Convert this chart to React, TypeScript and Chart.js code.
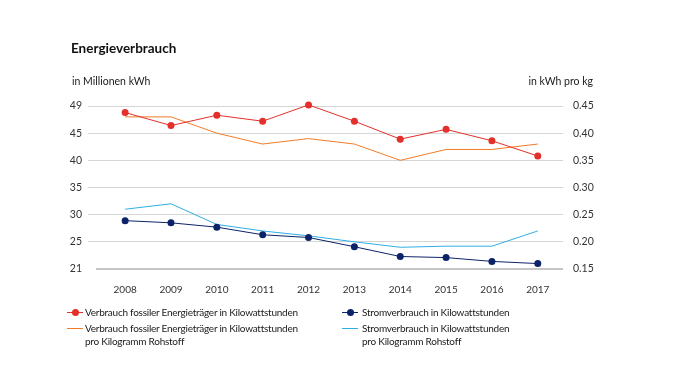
import React, { useEffect, useRef } from "react";
import { Chart, registerables } from "chart.js";

Chart.register(...registerables);

const years = [2008, 2009, 2010, 2011, 2012, 2013, 2014, 2015, 2016, 2017];
// left axis (Millionen kWh), drawn on an evenly spaced 20..50 grid
const fossil = [48.8, 46.4, 48.3, 47.2, 50.2, 47.2, 43.9, 45.7, 43.6, 40.8];
const strom = [28.9, 28.5, 27.7, 26.3, 25.8, 24.1, 22.3, 22.1, 21.4, 21.0];
// right axis (kWh pro kg)
const fossilPerKg = [0.43, 0.43, 0.4, 0.38, 0.39, 0.38, 0.35, 0.37, 0.37, 0.38];
const stromPerKg = [0.26, 0.27, 0.232, 0.22, 0.211, 0.2, 0.19, 0.192, 0.192, 0.22];

const leftTickValues = [20, 25, 30, 35, 40, 45, 50];
const leftTickLabels = ["21", "25", "30", "35", "40", "45", "49"];
const rightTickValues = [0.15, 0.2, 0.25, 0.3, 0.35, 0.4, 0.45];
const rightTickLabels = ["0.15", "0.20", "0.25", "0.30", "0.35", "0.40", "0.45"];

const RED = "#e3302a";
const ORANGE = "#f37b26";
const LIGHTBLUE = "#2eaee3";
const NAVY = "#0c2467";
const FONT = "Lato, 'Liberation Sans', sans-serif";

const baselinePlugin = {
  id: "baseline",
  beforeDatasetsDraw(chart: any) {
    const { ctx, chartArea } = chart;
    ctx.save();
    ctx.strokeStyle = "#c6c6c6";
    ctx.lineWidth = 2;
    ctx.beginPath();
    ctx.moveTo(chartArea.left + 8, chartArea.bottom);
    ctx.lineTo(chartArea.right, chartArea.bottom);
    ctx.stroke();
    ctx.restore();
  },
};

export default function App() {
  const ref = useRef<HTMLCanvasElement>(null);

  useEffect(() => {
    if (!ref.current) return;
    const chart = new Chart(ref.current, {
      type: "line",
      plugins: [baselinePlugin],
      data: {
        datasets: [
          {
            label: "fossil",
            data: years.map((y, i) => ({ x: y, y: fossil[i] })),
            yAxisID: "yL",
            borderColor: RED,
            backgroundColor: RED,
            borderWidth: 1,
            pointRadius: 3.5,
            pointBorderWidth: 0,
            clip: false,
          },
          {
            label: "fossilPerKg",
            data: years.map((y, i) => ({ x: y, y: fossilPerKg[i] })),
            yAxisID: "yR",
            borderColor: ORANGE,
            backgroundColor: ORANGE,
            borderWidth: 1,
            pointRadius: 0,
            clip: false,
          },
          {
            label: "strom",
            data: years.map((y, i) => ({ x: y, y: strom[i] })),
            yAxisID: "yL",
            borderColor: NAVY,
            backgroundColor: NAVY,
            borderWidth: 1,
            pointRadius: 3.5,
            pointBorderWidth: 0,
            clip: false,
          },
          {
            label: "stromPerKg",
            data: years.map((y, i) => ({ x: y, y: stromPerKg[i] })),
            yAxisID: "yR",
            borderColor: LIGHTBLUE,
            backgroundColor: LIGHTBLUE,
            borderWidth: 1,
            pointRadius: 0,
            clip: false,
          },
        ],
      },
      options: {
        animation: false,
        responsive: false,
        maintainAspectRatio: false,
        layout: { padding: { left: 40, right: 62, top: 106, bottom: 89 } },
        plugins: { legend: { display: false }, tooltip: { enabled: false } },
        scales: {
          x: {
            type: "linear",
            min: 2007.19,
            max: 2017.55,
            grid: { display: false },
            border: { display: false },
            afterBuildTicks: (axis: any) => {
              axis.ticks = years.map((v) => ({ value: v }));
            },
            afterFit: (axis: any) => {
              axis.height = 30;
            },
            ticks: {
              autoSkip: false,
              maxRotation: 0,
              padding: 7,
              color: "#333",
              font: { family: FONT, size: 10 },
              callback: (v: any) => String(v),
            },
          },
          yL: {
            type: "linear",
            position: "left",
            min: 20,
            max: 50,
            afterBuildTicks: (axis: any) => {
              axis.ticks = leftTickValues.map((v) => ({ value: v }));
            },
            afterFit: (axis: any) => {
              axis.width = 48;
            },
            grid: {
              color: (c: any) => (c.tick && c.tick.value === 20 ? "rgba(0,0,0,0)" : "#d6d6d6"),
              lineWidth: 1,
              drawTicks: false,
            },
            border: { display: false },
            ticks: {
              padding: 6,
              color: "#333",
              font: { family: FONT, size: 10.5 },
              callback: (v: any) => {
                const i = leftTickValues.indexOf(Number(v));
                return i >= 0 ? leftTickLabels[i] : "";
              },
            },
          },
          yR: {
            type: "linear",
            position: "right",
            min: 0.15,
            max: 0.45,
            afterBuildTicks: (axis: any) => {
              axis.ticks = rightTickValues.map((v) => ({ value: v }));
            },
            afterFit: (axis: any) => {
              axis.width = 60;
            },
            grid: { display: false, drawTicks: false },
            border: { display: false },
            ticks: {
              padding: 10,
              color: "#333",
              font: { family: FONT, size: 10.5 },
              callback: (v: any) => {
                const i = rightTickValues.findIndex((t) => Math.abs(t - Number(v)) < 1e-6);
                return i >= 0 ? rightTickLabels[i] : "";
              },
            },
          },
        },
      },
    });
    return () => chart.destroy();
  }, []);

  const text: React.CSSProperties = {
    position: "absolute",
    fontFamily: FONT,
    fontSize: 10,
    letterSpacing: "-0.25px",
    color: "#1a1a1a",
    lineHeight: "13px",
    whiteSpace: "nowrap",
  };

  const marker = (color: string, dot: boolean, left: number, top: number) => (
    <div style={{ position: "absolute", left, top, width: 16, height: 8 }}>
      <div style={{ position: "absolute", left: 0, top: 3.5, width: 16, height: 1, background: color }} />
      {dot && (
        <div
          style={{
            position: "absolute",
            left: 4.5,
            top: 0.5,
            width: 7,
            height: 7,
            borderRadius: "50%",
            background: color,
          }}
        />
      )}
    </div>
  );

  return (
    <div
      style={{
        position: "fixed",
        left: 0,
        top: 0,
        width: 685,
        height: 388,
        background: "#fff",
        overflow: "hidden",
      }}
    >
      <canvas ref={ref} width={685} height={388} style={{ position: "absolute", left: 0, top: 0 }} />
      <div style={{ ...text, left: 71, top: 40, fontSize: 13.5, letterSpacing: 0, fontWeight: 700, color: "#111", lineHeight: "16px" }}>
        Energieverbrauch
      </div>
      <div style={{ ...text, left: 72, top: 75, fontSize: 10.5, letterSpacing: 0 }}>in Millionen kWh</div>
      <div style={{ ...text, right: 92, top: 75, fontSize: 10.5, letterSpacing: 0 }}>in kWh pro kg</div>

      {marker(RED, true, 67, 308)}
      <div style={{ ...text, left: 85, top: 306 }}>Verbrauch fossiler Energieträger in Kilowattstunden</div>
      {marker(ORANGE, false, 67, 324)}
      <div style={{ ...text, left: 85, top: 322 }}>
        Verbrauch fossiler Energieträger in Kilowattstunden
        <br />
        pro Kilogramm Rohstoff
      </div>

      {marker(NAVY, true, 342, 308)}
      <div style={{ ...text, left: 362, top: 306 }}>Stromverbrauch in Kilowattstunden</div>
      {marker(LIGHTBLUE, false, 342, 324)}
      <div style={{ ...text, left: 362, top: 322 }}>
        Stromverbrauch in Kilowattstunden
        <br />
        pro Kilogramm Rohstoff
      </div>
    </div>
  );
}
